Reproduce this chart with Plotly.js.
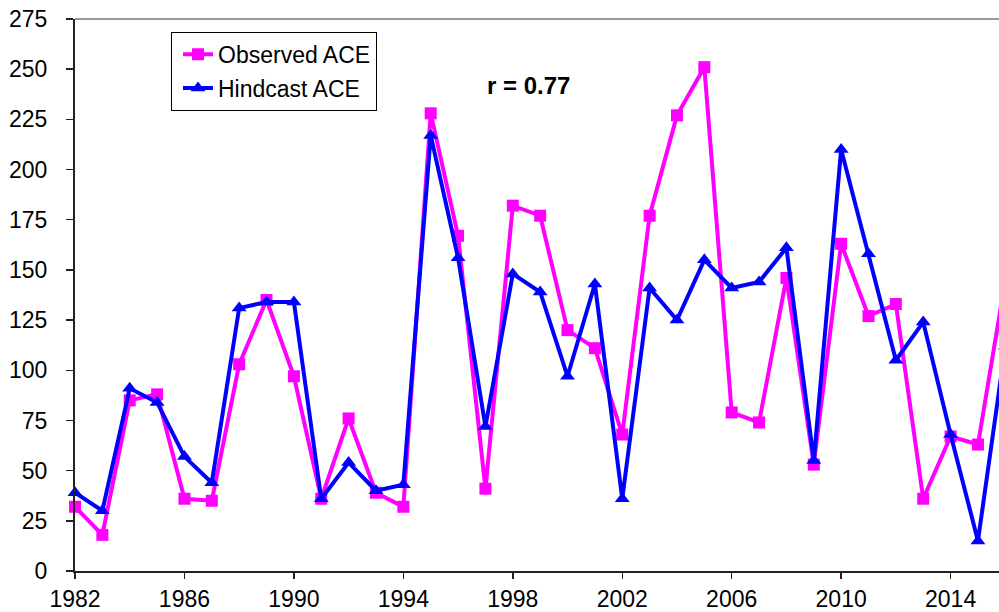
<!DOCTYPE html>
<html>
<head>
<meta charset="utf-8">
<script src="https://cdn.plot.ly/plotly-3.0.1.min.js"></script>
<style>
html,body{margin:0;padding:0;overflow:hidden;background:#fff;}
#chart{width:1020px;height:612px;}
</style>
</head>
<body>
<div id="chart"></div>
<script>
var years = [1982,1983,1984,1985,1986,1987,1988,1989,1990,1991,1992,1993,1994,1995,1996,1997,1998,1999,2000,2001,2002,2003,2004,2005,2006,2007,2008,2009,2010,2011,2012,2013,2014,2015,2016];
var observedACE = [32,18,85,88,36,35,103,135,97,36,76,39,32,228,167,41,182,177,120,111,68,177,227,251,79,74,146,53,163,127,133,36,67,63,145];
var hindcastACE = [39,30,91,84,57,44,131,134,134,36,54,40,43,217,156,72,148,139,97,143,36,141,125,155,141,144,161,55,210,158,105,124,68,15,112];
var seriesNames = ["Observed ACE", "Hindcast ACE"];
var yTicks = [0,25,50,75,100,125,150,175,200,225,250,275];
var xTicks = [1982,1986,1990,1994,1998,2002,2006,2010,2014];
var corrText = "r = 0.77";

var FONT = "Liberation Sans, Arial, sans-serif";

var traces = [
  {
    x: years, y: observedACE, name: seriesNames[0], type: "scatter", mode: "lines+markers",
    legendgroup: "a",
    line: {color: "#FF00FF", width: 4},
    marker: {symbol: "square", size: 12, color: "#FF00FF"},
    cliponaxis: false
  },
  {
    x: years, y: hindcastACE, name: seriesNames[1], type: "scatter", mode: "lines+markers",
    legendgroup: "b",
    line: {color: "#0000FF", width: 4},
    marker: {symbol: "triangle-up", size: 13, color: "#0000FF"},
    cliponaxis: false
  }
];

var layout = {
  width: 1020, height: 612,
  margin: {l: 75, r: 1, t: 19, b: 41},
  paper_bgcolor: "#fff", plot_bgcolor: "#fff",
  font: {family: FONT, size: 23, color: "#000"},
  showlegend: true,
  legend: {
    x: 0.1017, y: 0.977, xanchor: "left", yanchor: "top",
    bgcolor: "#fff", bordercolor: "#000", borderwidth: 1,
    font: {family: FONT, size: 23, color: "#000"},
    traceorder: "grouped", tracegroupgap: 1, indentation: 6
  },
  xaxis: {
    range: [1982, 2016.5], tickmode: "array", tickvals: xTicks, ticktext: xTicks.map(String),
    ticks: "outside", ticklen: 6, tickwidth: 1.5, tickcolor: "#222",
    showline: true, linecolor: "#222", linewidth: 2,
    showgrid: false, zeroline: false,
    tickfont: {family: FONT, size: 23, color: "#000"}
  },
  yaxis: {
    range: [0, 275], tickmode: "array", tickvals: yTicks, ticktext: yTicks.map(String),
    ticks: "outside", ticklen: 7, tickwidth: 1.5, tickcolor: "#222",
    showline: true, linecolor: "#222", linewidth: 2,
    showgrid: false, zeroline: false, ticklabelstandoff: 14,
    tickfont: {family: FONT, size: 23, color: "#000"}
  },
  shapes: [
    {type: "line", xref: "paper", yref: "paper", x0: 0, x1: 1, y0: 1, y1: 1,
     line: {color: "#999", width: 2}}
  ],
  annotations: [
    {text: corrText, xref: "paper", yref: "paper", x: 0.480, y: 0.880,
     xanchor: "center", yanchor: "middle", showarrow: false,
     font: {family: FONT, size: 24, color: "#000", weight: "bold"}}
  ]
};

Plotly.newPlot("chart", traces, layout, {staticPlot: true, displayModeBar: false});
</script>
</body>
</html>
